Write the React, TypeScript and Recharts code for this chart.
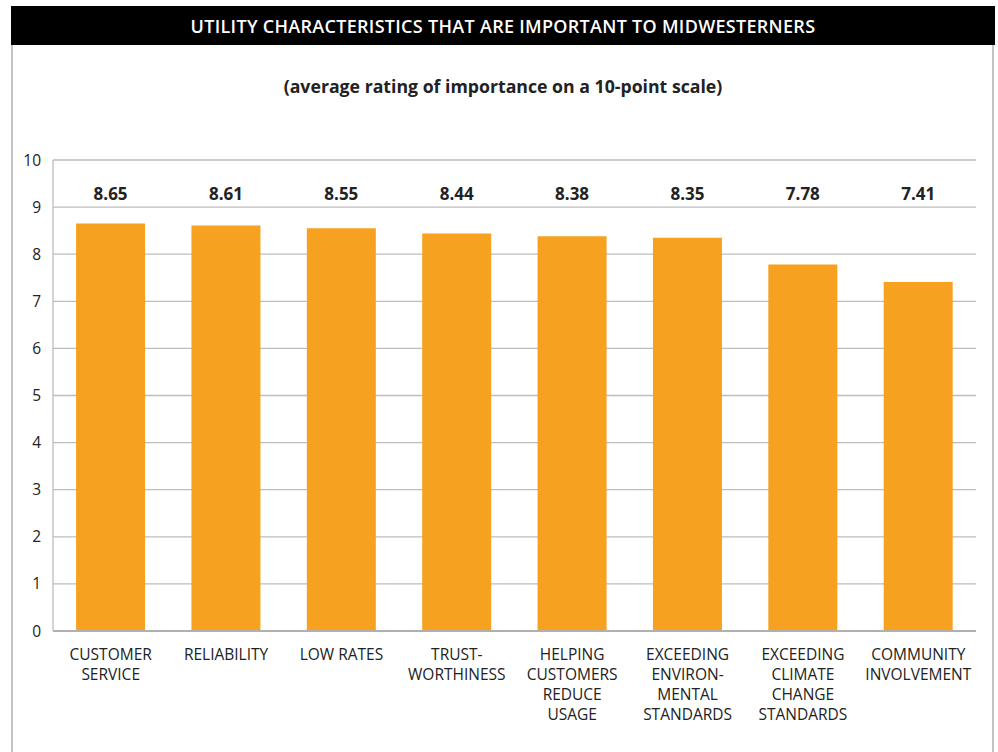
import React from 'react';
import { BarChart, Bar, XAxis, YAxis, CartesianGrid, LabelList } from 'recharts';

const categories = [
  'Customer service',
  'Reliability',
  'Low rates',
  'Trustworthiness',
  'Helping customers reduce usage',
  'Exceeding environmental standards',
  'Exceeding climate change standards',
  'Community involvement',
];

const tickLines = [
  ['CUSTOMER', 'SERVICE'],
  ['RELIABILITY'],
  ['LOW RATES'],
  ['TRUST-', 'WORTHINESS'],
  ['HELPING', 'CUSTOMERS', 'REDUCE', 'USAGE'],
  ['EXCEEDING', 'ENVIRON-', 'MENTAL', 'STANDARDS'],
  ['EXCEEDING', 'CLIMATE', 'CHANGE', 'STANDARDS'],
  ['COMMUNITY', 'INVOLVEMENT'],
];

const ratings = [8.65, 8.61, 8.55, 8.44, 8.38, 8.35, 7.78, 7.41];

const yTicks = [0, 1, 2, 3, 4, 5, 6, 7, 8, 9, 10];

// value labels all sit on one line, at this level of the y scale
const LABEL_LEVEL = 9.28;

const FONT = '"Open Sans", "Noto Sans", sans-serif';
const ORANGE = '#f6a11f';
const GRID = '#bdbdbd';

const data = categories.map((name, i) => ({ name, idx: i, value: ratings[i] }));

const CategoryTick = (props: any) => {
  const { x, y, payload } = props;
  const lines = tickLines[payload.index] || [];
  return (
    <text x={x} y={y} textAnchor="middle" fontFamily={FONT} fontSize={15.5} fill="#222">
      {lines.map((l, i) => (
        <tspan key={i} x={x} dy={i === 0 ? 21 : 20}>
          {l}
        </tspan>
      ))}
    </text>
  );
};

const ValueLabel = (props: any) => {
  const { x, y, width, height, value } = props;
  const bottom = y + height;
  const ly = bottom - (LABEL_LEVEL / value) * height;
  return (
    <text
      x={x + width / 2}
      y={ly}
      textAnchor="middle"
      dominantBaseline="central"
      fontFamily={FONT}
      fontWeight={700}
      fontSize={17}
      fill="#222"
    >
      {value.toFixed(2)}
    </text>
  );
};

export default function App() {
  return (
    <div style={{ position: 'absolute', left: 0, top: 0, width: 998, height: 752, background: '#fff', overflow: 'hidden' }}>
      {/* header bar */}
      <div
        style={{
          position: 'absolute',
          left: 11,
          top: 6,
          width: 984,
          height: 39,
          background: '#000',
          color: '#fff',
          fontFamily: FONT,
          fontWeight: 600,
          fontSize: 18,
          letterSpacing: 0.3,
          display: 'flex',
          alignItems: 'center',
          justifyContent: 'center',
        }}
      >
        UTILITY CHARACTERISTICS THAT ARE IMPORTANT TO MIDWESTERNERS
      </div>
      {/* frame */}
      <div
        style={{
          position: 'absolute',
          left: 11,
          top: 45,
          width: 979,
          height: 720,
          borderLeft: '2px solid #c4c4c4',
          borderRight: '2px solid #c4c4c4',
        }}
      />
      <div
        style={{
          position: 'absolute',
          left: 11,
          width: 984,
          top: 74,
          textAlign: 'center',
          fontFamily: FONT,
          fontWeight: 700,
          fontSize: 17.7,
          color: '#222',
        }}
      >
        (average rating of importance on a 10-point scale)
      </div>
      <div style={{ position: 'absolute', left: 0, top: 0 }}>
        <BarChart
          width={998}
          height={752}
          data={data}
          margin={{ top: 160, right: 22, bottom: 21, left: 13 }}
          barCategoryGap="20%"
        >
          <CartesianGrid vertical={false} stroke={GRID} strokeWidth={1.3} />
          <XAxis
            dataKey="name"
            height={100}
            tickLine={false}
            axisLine={{ stroke: '#b0b0b0', strokeWidth: 2 }}
            tick={<CategoryTick />}
            interval={0}
          />
          <YAxis
            width={40}
            domain={[0, 10]}
            ticks={yTicks}
            interval={0}
            tickLine={false}
            axisLine={{ stroke: GRID, strokeWidth: 1.3 }}
            tickMargin={6}
            tick={{ fontFamily: FONT, fontSize: 15.5, fill: '#222' }}
          />
          <Bar dataKey="value" fill={ORANGE} isAnimationActive={false}>
            <LabelList dataKey="value" content={<ValueLabel />} />
          </Bar>
        </BarChart>
      </div>
    </div>
  );
}
